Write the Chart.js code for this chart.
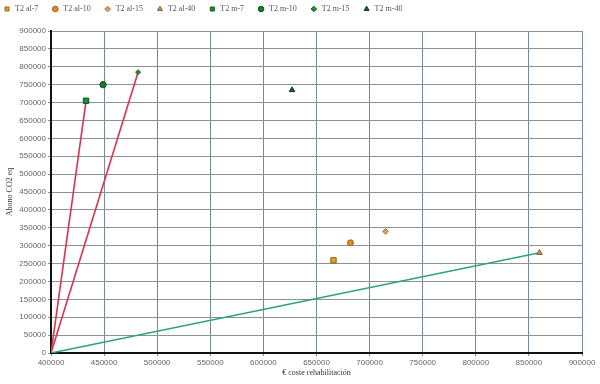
<!DOCTYPE html>
<html>
<head>
<meta charset="utf-8">
<script src="https://cdn.jsdelivr.net/npm/chart.js@4/dist/chart.umd.min.js"></script>
<style>
html,body{margin:0;padding:0;background:#fff;}
#wrap{width:600px;height:384px;position:relative;}
</style>
</head>
<body>
<div id="wrap"><canvas id="c" width="600" height="384"></canvas></div>
<script>
// ---- data ----
const seriesNames = ['T2 al-7','T2 al-10','T2 al-15','T2 al-40','T2 m-7','T2 m-10','T2 m-15','T2 m-40'];
const costeRehab = [666000, 682000, 715000, 860000, 433000, 449000, 482000, 627000];
const abonoCO2  = [259000, 308000, 340000, 280000, 705000, 750000, 785000, 735000];
const origin = [400000, 0];
// trend lines from origin to these series (index into arrays above)
const lineTargets = [4, 6, 3];
const xTicks = [400000,450000,500000,550000,600000,650000,700000,750000,800000,850000,900000];
const yTicks = [0,50000,100000,150000,200000,250000,300000,350000,400000,450000,500000,550000,600000,650000,700000,750000,800000,850000,900000];

// ---- styles ----
const markerStyles = ['rect','circle','rectRot','triangle','rect','circle','rectRot','triangle'];
const markerRadius = [3.8,3,2.8,3.2,3.8,3.2,2.5,3.2];
const markerFill = ['#d99a3a','#e08a2a','#d9a060','#c8915a','#1f8a3a','#1a7a2a','#2a8a3a','#1d5e2a'];
const markerEdge = ['#9a6418','#a85e10','#a87030','#8a5a30','#0f5a20','#0f5a1a','#1a6a2a','#0f3a18'];
const lineColors = ['#d8344e','#d8344e','#2fa37c'];

const datasets = [];
seriesNames.forEach((name,i)=>{
  datasets.push({
    label:name,
    data:[{x:costeRehab[i], y:abonoCO2[i]}],
    pointStyle:markerStyles[i],
    pointRadius:markerRadius[i],
    pointHoverRadius:markerRadius[i],
    backgroundColor:markerFill[i],
    borderColor:markerEdge[i],
    borderWidth:1,
    showLine:false,
    order:0
  });
});
lineTargets.forEach((t,k)=>{
  datasets.push({
    label:'trend'+k,
    data:[{x:origin[0],y:origin[1]},{x:costeRehab[t],y:abonoCO2[t]}],
    showLine:true,
    borderColor:lineColors[k],
    borderWidth:1.6,
    pointRadius:0,
    fill:false,
    order:1,
    isTrend:true
  });
});

const legendFix = {
  id:'legendFix',
  beforeInit(chart){
    const lg = chart.legend;
    const orig = lg.fit;
    lg.fit = function(){ orig.call(lg); lg.height = 39; };
  }
};

new Chart(document.getElementById('c'), {
  type:'scatter',
  data:{datasets},
  plugins:[legendFix],
  options:{
    responsive:false,
    animation:false,
    layout:{padding:{top:-8,left:-10,right:18,bottom:0}},
    plugins:{
      tooltip:{enabled:false},
      legend:{
        display:true,
        position:'top',
        align:'start',
        labels:{
          filter:(item,data)=>!data.datasets[item.datasetIndex].isTrend,
          usePointStyle:true,
          boxHeight:4,
          padding:13,
          color:'#555',
          font:{family:'Liberation Serif',size:8}
        }
      }
    },
    scales:{
      x:{
        type:'linear',
        min:xTicks[0], max:xTicks[xTicks.length-1],
        afterBuildTicks:(s)=>{ s.ticks = xTicks.map(v=>({value:v})); },
        afterFit:(s)=>{ s.height = 31; },
        ticks:{color:'#666',font:{family:'Liberation Sans',size:8},padding:2,maxRotation:0,autoSkip:false,callback:(v)=>String(v)},
        grid:{color:'#74899a',lineWidth:1,tickLength:3},
        border:{color:'#111',width:2},
        title:{display:true,text:'€ coste rehabilitación',color:'#333',font:{family:'Liberation Serif',size:8},padding:{top:2,bottom:6}}
      },
      y:{
        type:'linear',
        min:yTicks[0], max:yTicks[yTicks.length-1],
        afterBuildTicks:(s)=>{ s.ticks = yTicks.map(v=>({value:v})); },
        afterFit:(s)=>{ s.width = 61; },
        ticks:{color:'#666',font:{family:'Liberation Sans',size:8},padding:2,autoSkip:false,callback:(v)=>String(v)},
        grid:{color:'#8a9298',lineWidth:1,tickLength:3},
        border:{color:'#111',width:2},
        title:{display:true,text:'Abono CO2 eq',color:'#333',font:{family:'Liberation Serif',size:8},padding:{top:15,bottom:2}}
      }
    }
  }
});
</script>
</body>
</html>
